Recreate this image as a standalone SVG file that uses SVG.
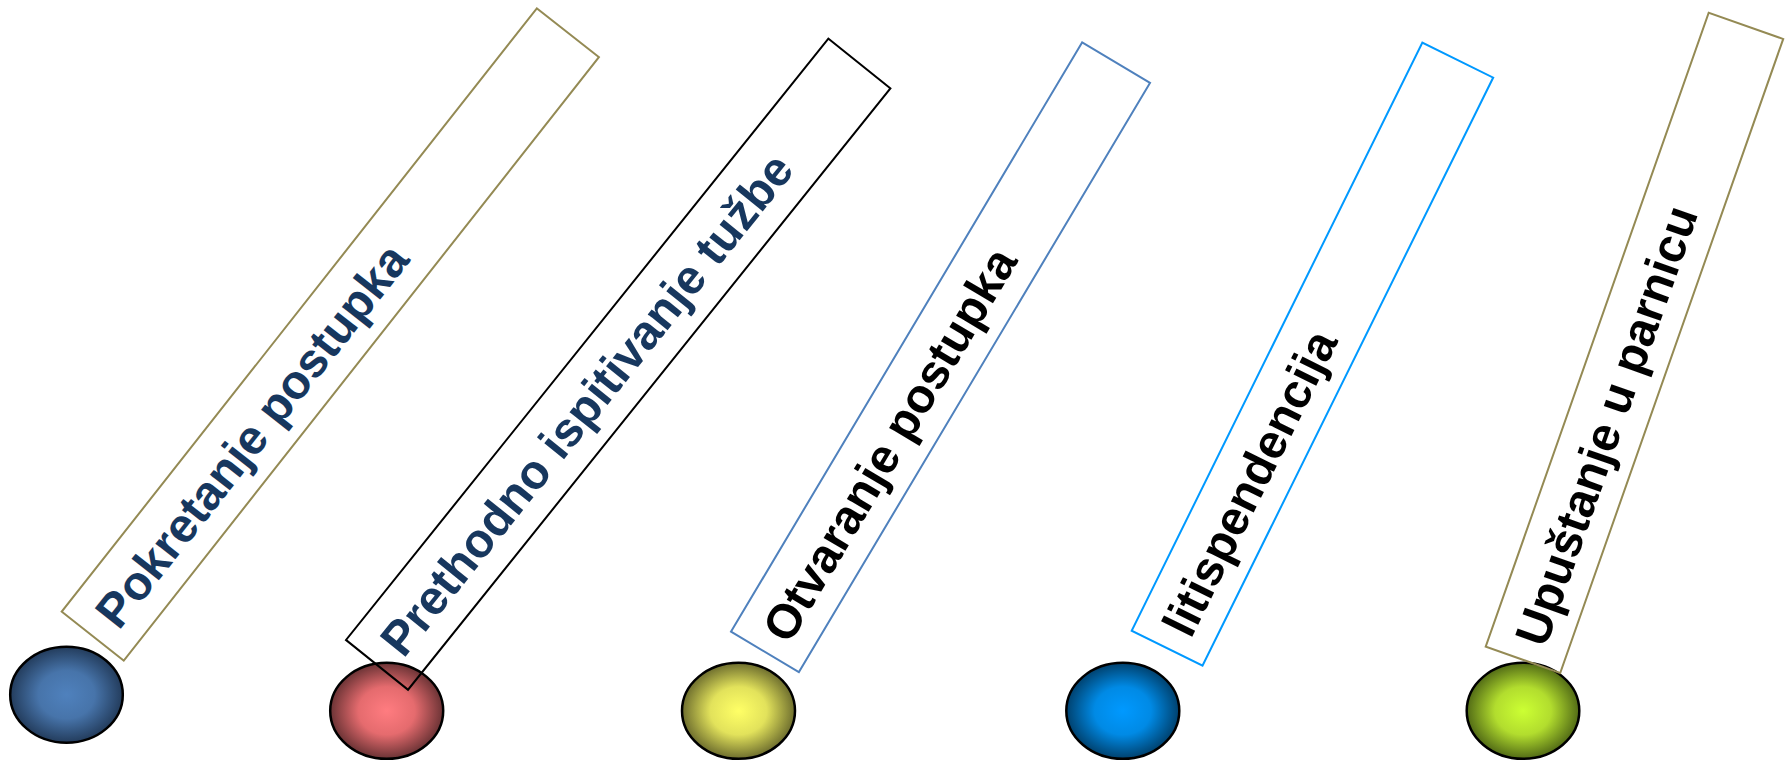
<svg xmlns="http://www.w3.org/2000/svg" width="1786" height="762" viewBox="0 0 1786 762">
<style>
.lbl{font-family:"Liberation Sans",Arial,sans-serif;font-weight:bold;font-size:48px}
.navy{fill:#17375E}
.blk{fill:#000}
.box{fill:none;stroke-width:2}
.ball{stroke:#000;stroke-width:2.5}
</style>
<defs>
<radialGradient id="g1" cx="50%" cy="50%" r="50%"><stop offset="0" stop-color="#4F81BD"/><stop offset="0.5" stop-color="#4774AA"/><stop offset="1" stop-color="#233C5C"/></radialGradient>
<radialGradient id="g2" cx="50%" cy="50%" r="50%"><stop offset="0" stop-color="#FF7C80"/><stop offset="0.5" stop-color="#E56B6E"/><stop offset="1" stop-color="#6B3335"/></radialGradient>
<radialGradient id="g3" cx="50%" cy="50%" r="50%"><stop offset="0" stop-color="#FFFF66"/><stop offset="0.5" stop-color="#E2E25B"/><stop offset="1" stop-color="#6E6E2E"/></radialGradient>
<radialGradient id="g4" cx="50%" cy="50%" r="50%"><stop offset="0" stop-color="#0099FF"/><stop offset="0.5" stop-color="#008AE5"/><stop offset="1" stop-color="#00416E"/></radialGradient>
<radialGradient id="g5" cx="50%" cy="50%" r="50%"><stop offset="0" stop-color="#CCFF33"/><stop offset="0.5" stop-color="#B2DD2E"/><stop offset="1" stop-color="#526B16"/></radialGradient>
</defs>
<g id="connectors"></g>
<g id="ball1"><ellipse class="ball" cx="66.5" cy="694.7" rx="56.3" ry="48" fill="url(#g1)"/></g>
<g id="ball2"><ellipse class="ball" cx="386.7" cy="710.8" rx="56.5" ry="48" fill="url(#g2)"/></g>
<g id="ball3"><ellipse class="ball" cx="738.5" cy="710.8" rx="56.5" ry="48" fill="url(#g3)"/></g>
<g id="ball4"><ellipse class="ball" cx="1122.8" cy="710.8" rx="56.5" ry="48" fill="url(#g4)"/></g>
<g id="ball5"><ellipse class="ball" cx="1523" cy="710.8" rx="56.3" ry="48" fill="url(#g5)"/></g>
<g id="box1" transform="translate(61.7,611.7) rotate(-51.78)">
<rect class="box" x="0" y="0" width="768" height="79" stroke="#948A54"/>
<text class="lbl navy" x="20" y="57">Pokretanje postupka</text>
</g>
<g id="box2" transform="translate(346,640) rotate(-51.27)">
<rect class="box" x="0" y="0" width="771" height="79.5" stroke="#000"/>
<text class="lbl navy" x="21" y="57">Prethodno ispitivanje tužbe</text>
</g>
<g id="box3" transform="translate(731,631.7) rotate(-59.21)">
<rect class="box" x="0" y="0" width="686" height="79" stroke="#4F81BD"/>
<text class="lbl blk" x="18" y="57">Otvaranje postupka</text>
</g>
<g id="box4" transform="translate(1131.7,630.7) rotate(-63.7)">
<rect class="box" x="0" y="0" width="656" height="79" stroke="#0099FF"/>
<text class="lbl blk" x="18" y="57">litispendencija</text>
</g>
<g id="box5" transform="translate(1485.7,646.7) rotate(-70.62)">
<rect class="box" x="0" y="0" width="672" height="79" stroke="#948A54"/>
<text class="lbl blk" x="18" y="57">Upuštanje u parnicu</text>
</g>
</svg>
